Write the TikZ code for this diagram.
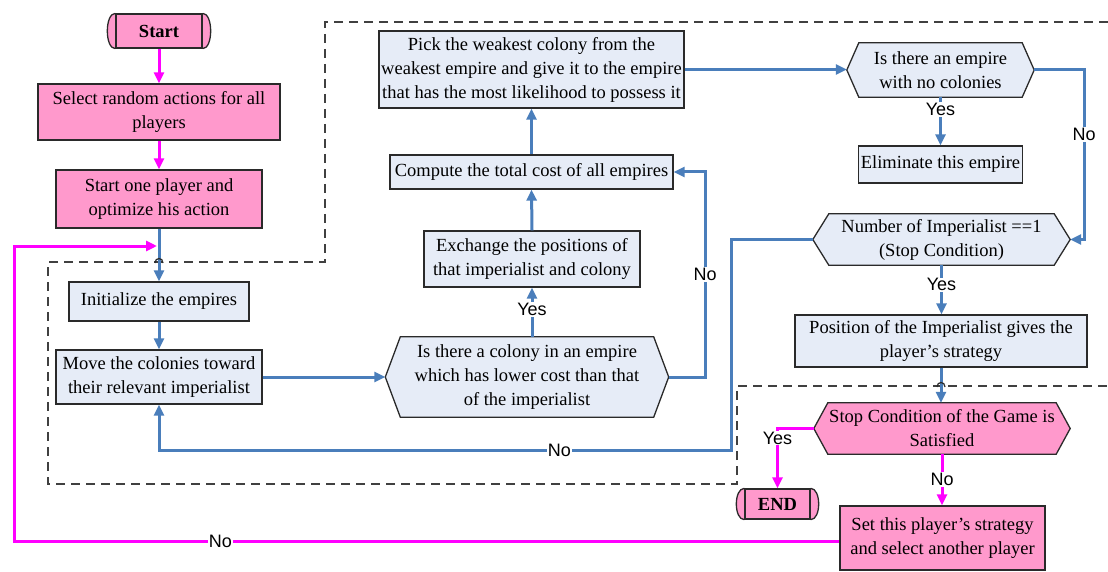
\documentclass[tikz,border=0pt]{standalone}
\usepackage{fontspec}
\setmainfont{Liberation Serif}
\newfontfamily\lblfont{Liberation Sans}
\usetikzlibrary{arrows.meta,calc,backgrounds}
\definecolor{fpink}{HTML}{FF99CC}
\definecolor{fblue}{HTML}{E6ECF7}
\definecolor{lblue}{HTML}{4A7EBB}
\definecolor{mag}{HTML}{FF00FF}
\definecolor{edge}{HTML}{2A2A2A}
\newcommand{\hexshape}[3]{\path[draw=edge,line width=1.3pt,fill=#3]
  ($(#1.north west)+(#2,0)$) -- ($(#1.north east)+(-#2,0)$) -- (#1.east) --
  ($(#1.south east)+(-#2,0)$) -- ($(#1.south west)+(#2,0)$) -- (#1.west) -- cycle;}
\newcommand{\capshape}[1]{%
  \path[draw=edge,line width=1.3pt,fill=fpink] (#1.north west) .. controls +(-10.7,0) and +(-10.7,0) .. (#1.south west);
  \path[draw=edge,line width=1.3pt,fill=fpink] (#1.north east) .. controls +(10.7,0) and +(10.7,0) .. (#1.south east);}
\tikzset{
  txt/.style={align=center, inner sep=0pt, font=\fontsize{18.5}{24}\selectfont},
  box/.style={txt, draw=edge, line width=1.3pt, fill=fblue},
  pbox/.style={box, fill=fpink},
  hexn/.style={txt},
  term/.style={pbox, font=\fontsize{18.5}{24}\selectfont\bfseries},
  bl/.style={draw=lblue, line width=3pt},
  ba/.style={bl, -{Triangle[length=11pt,width=10pt]}},
  ml/.style={draw=mag, line width=3pt},
  ma/.style={ml, -{Triangle[length=11pt,width=10pt]}},
  lbl/.style={font=\lblfont\fontsize{18}{20}\selectfont, fill=white, inner sep=1pt},
  dsh/.style={draw=black!75, line width=1.4pt, dash pattern=on 9pt off 6pt},
  hop/.style={draw=edge, line width=1.2pt}
}
\begin{document}
\begin{tikzpicture}[x=1pt,y=-1pt]
\useasboundingbox (0,0) rectangle (1108,572);

% dashed region
\draw[dsh] (1108,22) -- (325,22) -- (325,262) -- (48,262) -- (48,484) -- (737,484) -- (737,386) -- (1108,386);

% nodes
\node[term, minimum width=86, minimum height=34] (start) at (159,31) {Start};
\node[pbox, minimum width=242, minimum height=56] (sel) at (159,112) {Select random actions for all\\players};
\node[pbox, minimum width=206, minimum height=58] (opt) at (159,199) {Start one player and\\optimize his action};
\node[box, minimum width=180, minimum height=39] (init) at (159,301.5) {Initialize the empires};
\node[box, minimum width=206, minimum height=54] (move) at (159,377) {Move the colonies toward\\their relevant imperialist};
\node[hexn, minimum width=283, minimum height=80] (h1) at (527,377) {Is there a colony in an empire\\which has lower cost than that\\of the imperialist};
\node[box, minimum width=216, minimum height=56] (exch) at (532,259) {Exchange the positions of\\that imperialist and colony};
\node[box, minimum width=283, minimum height=34] (comp) at (531.5,172) {Compute the total cost of all empires};
\node[box, minimum width=305, minimum height=77] (pick) at (531.5,69.5) {Pick the weakest colony from the\\weakest empire and give it to the empire\\that has the most likelihood to possess it};
\node[hexn, minimum width=187, minimum height=54] (h2) at (940.5,70) {Is there an empire\\with no colonies};
\node[box, minimum width=164, minimum height=37] (elim) at (940.5,164.5) {Eliminate this empire};
\node[hexn, minimum width=257, minimum height=51] (h3) at (941.5,239.5) {Number of Imperialist ==1\\(Stop Condition)};
\node[box, minimum width=292, minimum height=52] (pos) at (941,341) {Position of the Imperialist gives the\\player’s strategy};
\node[hexn, minimum width=256, minimum height=51] (h4) at (942,428.5) {Stop Condition of the Game is\\Satisfied};
\node[term, minimum width=65, minimum height=30] (end) at (777.5,504) {END};
\node[pbox, minimum width=205, minimum height=64] (set) at (942.5,538) {Set this player’s strategy\\and select another player};

\begin{scope}[on background layer]
\hexshape{h1}{15}{fblue}
\hexshape{h2}{12}{fblue}
\hexshape{h3}{16}{fblue}
\hexshape{h4}{14}{fpink}
\capshape{start}
\capshape{end}
\end{scope}

% corner coordinates
\coordinate (retA) at (14,541);
\coordinate (retB) at (14,246);
\coordinate (retC) at (157,246);
\coordinate (n1a) at (705,377);
\coordinate (n1b) at (705,172);
\coordinate (n2a) at (1084,70);
\coordinate (n2b) at (1084,239.5);
\coordinate (n3a) at (731,239.5);
\coordinate (n3b) at (731,450);
\coordinate (n3c) at (159,450);
\coordinate (y4) at (777.5,428.5);

% connectors
\draw[ma] (start.south) -- (sel.north);
\draw[ma] (sel.south) -- (opt.north);
\draw[ba] (opt.south) -- (init.north);
\draw[hop] (155,263) .. controls (155,257) and (163,257) .. (163,263);
\draw[ma] (set.west |- retA) -- node[lbl, pos=0.75]{No} (retA) -- (retB) -- (retC);
\draw[ba] (init.south) -- (move.north);
\draw[ba] (move.east) -- (h1.west);
\draw[ba] (exch.south |- h1.north) -- node[lbl, pos=0.55]{Yes} (exch.south);
\draw[ba] (exch.north) -- (comp.south);
\draw[ba] (comp.north) -- (pick.south);
\draw[ba] (h1.east) -- (n1a) -- node[lbl]{No} (n1b) -- (comp.east);
\draw[ba] (pick.east) -- (pick.east -| h2.west);
\draw[ba] (h2.south) -- node[lbl, pos=0.25]{Yes} (elim.north);
\draw[ba] (h2.east) -- (n2a) -- node[lbl, pos=0.38]{No} (n2b) -- (h3.east);
\draw[ba] (h3.west) -- (n3a) -- (n3b) -- node[lbl, pos=0.3]{No} (n3c) -- (move.south);
\draw[ba] (h3.south) -- node[lbl, pos=0.4]{Yes} (h3.south |- pos.north);
\draw[ba] (pos.south) -- (pos.south |- h4.north);
\draw[hop] (937,387) .. controls (937,381) and (945,381) .. (945,387);
\draw[ma] (h4.west) -- (y4) -- (end.north);
\node[lbl] (yeslbl) at (777.5,438) {Yes};
\draw[ma] (h4.south) -- node[lbl]{No} (h4.south |- set.north);
\end{tikzpicture}
\end{document}
